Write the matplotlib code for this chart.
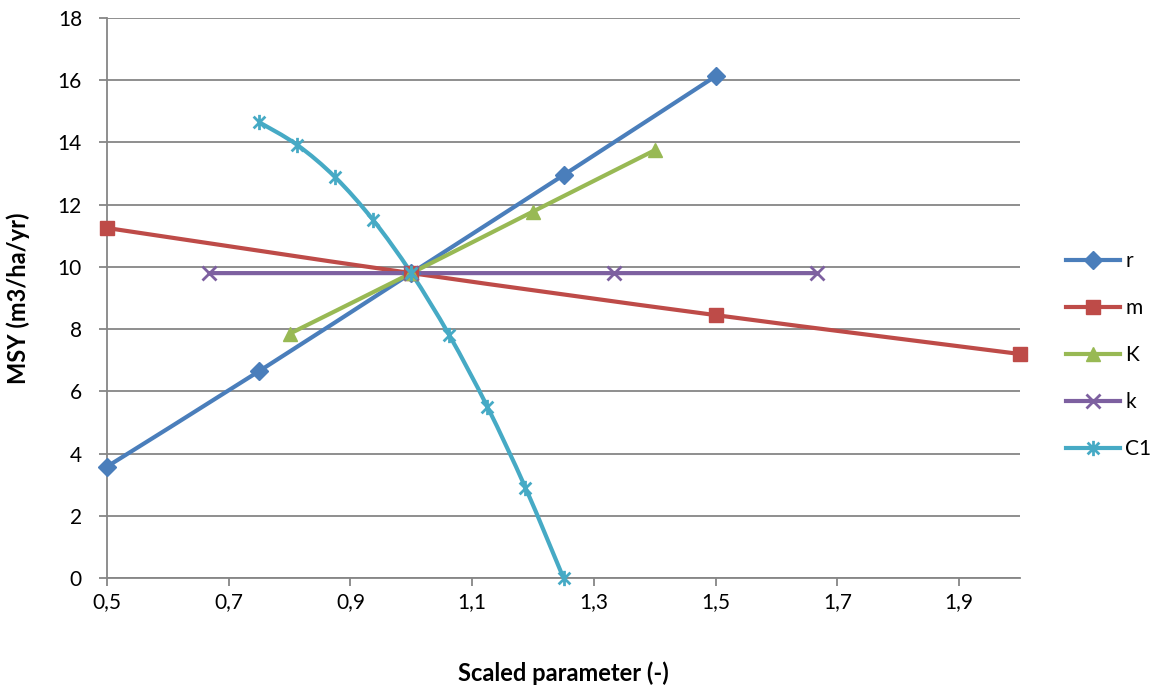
import numpy as np
import matplotlib
matplotlib.use("Agg")
import matplotlib.pyplot as plt
from matplotlib.path import Path
from matplotlib.patches import PathPatch
from matplotlib.lines import Line2D
from matplotlib.ticker import FuncFormatter, MultipleLocator

plt.rcParams['font.family'] = ['Lato', 'DejaVu Sans']

# data
r_x = [0.5, 0.75, 1.0, 1.25, 1.5]
r_y = [3.58, 6.65, 9.8, 12.95, 16.13]
m_x = [0.5, 1.0, 1.5, 2.0]
m_y = [11.25, 9.8, 8.45, 7.2]
K_x = [0.8, 1.0, 1.2, 1.4]
K_y = [7.85, 9.8, 11.78, 13.75]
k_x = [0.667, 1.0, 1.333, 1.667]
k_y = [9.8, 9.8, 9.8, 9.8]
C1_x = [0.75, 0.8125, 0.875, 0.9375, 1.0, 1.0625, 1.125, 1.1875, 1.25]
C1_y = [14.65, 13.92, 12.88, 11.5, 9.8, 7.8, 5.5, 2.9, 0.0]

x_ticks = [0.5, 0.7, 0.9, 1.1, 1.3, 1.5, 1.7, 1.9]
labels = ['r', 'm', 'K', 'k', 'C1']
colors = ['#4A7EBB', '#BE4B48', '#98B954', '#7D60A0', '#46AAC5']

# excel style asterisk marker: x plus vertical bar
star = Path([(-1, -1), (1, 1), (-1, 1), (1, -1), (0, -1.3), (0, 1.3)],
            [Path.MOVETO, Path.LINETO, Path.MOVETO, Path.LINETO, Path.MOVETO, Path.LINETO])
markers = ['D', 's', '^', 'x', star]
msizes = [9, 10, 10, 10, 11]


def smooth_path(xs, ys):
    # catmull-rom style bezier through the points, like excel's smoothed line
    pts = np.column_stack([xs, ys])
    verts = [pts[0]]
    codes = [Path.MOVETO]
    n = len(pts)
    for i in range(n - 1):
        p0 = pts[i - 1] if i > 0 else pts[i]
        p1 = pts[i]
        p2 = pts[i + 1]
        p3 = pts[i + 2] if i + 2 < n else pts[i + 1]
        c1 = p1 + (p2 - p0) / 6.0
        c2 = p2 - (p3 - p1) / 6.0
        verts += [c1, c2, p2]
        codes += [Path.CURVE4] * 3
    return Path(verts, codes)


fig = plt.figure(figsize=(11.61, 6.91), dpi=100)
ax = fig.add_axes([107 / 1161, 1 - 578 / 691, (1020 - 107) / 1161, (578 - 18) / 691])

series = [(r_x, r_y), (m_x, m_y), (K_x, K_y), (k_x, k_y), (C1_x, C1_y)]
handles = []
for (xs, ys), lab, col, mk, ms in zip(series, labels, colors, markers, msizes):
    ax.add_patch(PathPatch(smooth_path(xs, ys), transform=ax.transData,
                           fill=False, edgecolor=col, lw=3, zorder=3, clip_on=False))
    mew = 2 if (mk == 'x' or mk is star) else 1
    ax.plot(xs, ys, linestyle='none', marker=mk, ms=ms, color=col,
            mec=col, mew=mew, zorder=4, clip_on=False)
    handles.append(Line2D([], [], color=col, lw=3, marker=mk, ms=ms, mec=col, mew=mew))

ax.set_xlim(0.5, 2.0)
ax.set_ylim(0, 18)
ax.set_xticks(x_ticks)
ax.yaxis.set_major_locator(MultipleLocator(2))
ax.xaxis.set_major_formatter(FuncFormatter(lambda v, p: ('%.1f' % v).replace('.', ',')))
ax.yaxis.set_major_formatter(FuncFormatter(lambda v, p: '%d' % v))
ax.grid(axis='y', color='#868686', lw=1.3)
ax.set_axisbelow(True)
for s in ['top', 'right']:
    ax.spines[s].set_visible(False)
for s in ['left', 'bottom']:
    ax.spines[s].set_color('#868686')
    ax.spines[s].set_linewidth(1.3)
ax.tick_params(colors='#868686', labelcolor='black', labelsize=15, length=6, width=1.3)
ax.tick_params(axis='x', pad=4)
ax.tick_params(axis='y', pad=12)

ax.set_xlabel('Scaled parameter (-)', fontsize=17, fontweight='bold', labelpad=36)
ax.set_ylabel('MSY (m3/ha/yr)', fontsize=17, fontweight='bold', labelpad=20)

fig.legend(handles, labels, loc='center left', bbox_to_anchor=(1066 / 1161, 1 - 355 / 691),
           frameon=False, fontsize=15, labelspacing=1.3, handlelength=2.6,
           handletextpad=0.25, borderpad=0, borderaxespad=0)

fig.savefig('out.png', dpi=100)
